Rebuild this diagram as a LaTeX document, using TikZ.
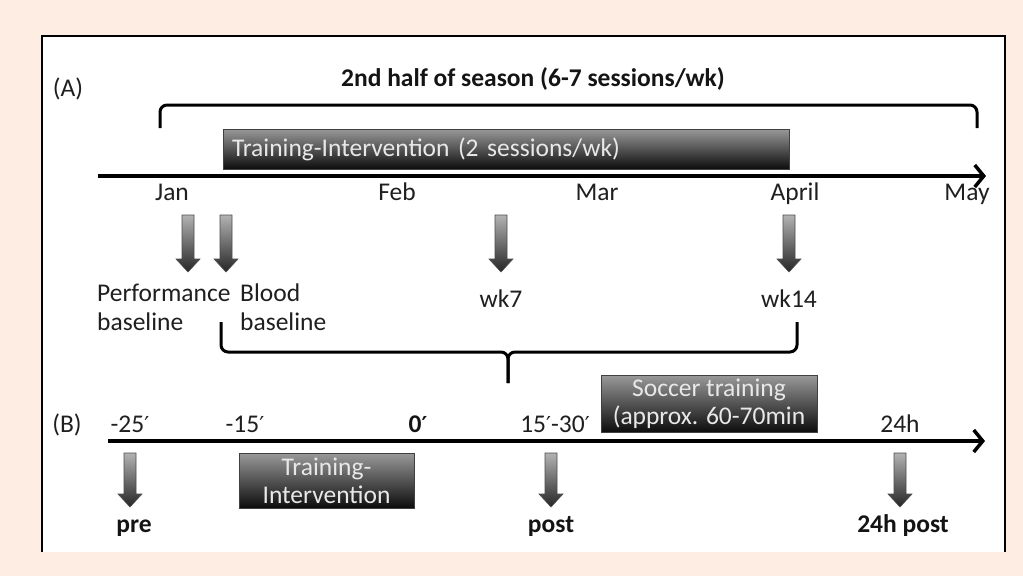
\documentclass[tikz,border=0pt]{standalone}
\usepackage{fontspec}
\setmainfont{Carlito}
\newfontfamily\primefont{DejaVu Sans}
\usetikzlibrary{arrows.meta}
\definecolor{peach}{RGB}{253,237,226}
\definecolor{boxtext}{RGB}{232,232,232}
\newcommand\pr{{\primefont\fontsize{22}{26}\selectfont ′}}
\newcommand\blkarrow[3]{\path[barrow] (#1,#2) ++(-6,0) -- ++(12,0) -- ++(0,#3-13) -- ++(6,0) -- ++(-12,13) -- ++(-12,-13) -- ++(6,0) -- cycle;}
\begin{document}
\begin{tikzpicture}[x=1pt,y=-1pt,
  lbl/.style={font=\fontsize{25.5}{28}\selectfont, text=black!88, inner sep=0pt, anchor=base},
  blbl/.style={font=\fontsize{25.5}{28}\selectfont\bfseries, text=black!92, inner sep=0pt, anchor=base},
  gbox/.style={draw=black!75, line width=0.8pt, top color=black!40, bottom color=black!95,
    text=boxtext, font=\fontsize{25.5}{28}\selectfont, inner sep=0pt},
  axis/.style={line width=3.5pt, -{Straight Barb[length=9pt,width=22pt,line width=3.5pt]}},
  brk/.style={line width=3pt, rounded corners=7pt},
  barrow/.style={draw=black!70, line width=0.6pt, top color=black!30, bottom color=black!85},
]
\useasboundingbox (0,0) rectangle (1023,576);
\fill[peach] (0,0) rectangle (1023,576);
\fill[white] (42,36) rectangle (1005,552);
\draw[line width=2pt] (42,552) -- (42,36) -- (1005,36) -- (1005,552);

% ---------- Part A ----------
\node[lbl] (labA) at (68,96) {(A)};
\node[blbl] (title) at (533,86) {2nd half of season (6-7 sessions/wk)};
\coordinate (brL) at (160,128);
\coordinate (brR) at (977,128);
\draw[brk] (brL) -- (160,105) -- (977,105) -- (brR);

\node[gbox, minimum width=566pt, minimum height=40pt, text width=548pt, align=left] (tiA) at (506,149) {Training-Intervention\ (2 sessions/wk)};

\coordinate (aS) at (98,176);
\coordinate (aE) at (986,176);
\draw[axis] (aS) -- (aE);

\node[lbl] (jan) at (172,200) {Jan};
\node[lbl] (feb) at (397,200) {Feb};
\node[lbl] (mar) at (597,200) {Mar};
\node[lbl] (apr) at (795,200) {April};
\node[lbl] (may) at (967,200) {May};

\blkarrow{188}{215}{57}
\blkarrow{226}{215}{57}
\blkarrow{501}{215}{57}
\blkarrow{789}{215}{57}

\node[lbl, anchor=base west] (perf1) at (97,301) {Performance};
\node[lbl, anchor=base west] (perf2) at (97,330) {baseline};
\node[lbl, anchor=base west] (blood1) at (240,301) {Blood};
\node[lbl, anchor=base west] (blood2) at (240,330) {baseline};
\node[lbl] (wk7) at (501,307) {wk7};
\node[lbl] (wk14) at (789,307) {wk14};

\coordinate (bcL) at (221,322);
\coordinate (bcR) at (797,322);
\coordinate (bcM) at (508,383);
\draw[brk] (bcL) |- (508,352) -- (bcM);
\draw[brk] (bcR) |- (508,352) -- (bcM);

% ---------- Part B ----------
\node[gbox, minimum width=216pt, minimum height=57pt, align=center] (soc) at (709,403.5) {Soccer training\\(approx. 60-70min};

\node[lbl] (labB) at (67,432) {(B)};
\node[lbl] (t25) at (130,432) {-25\pr};
\node[lbl] (t15) at (245,432) {-15\pr};
\node[blbl] (t0) at (418,432) {0\pr};
\node[lbl] (t1530) at (555,432) {15\pr-30\pr};
\node[lbl] (t24) at (900,432) {24h};

\coordinate (bS) at (108,441);
\coordinate (bE) at (985,441);
\draw[axis] (bS) -- (bE);

\node[gbox, minimum width=175pt, minimum height=55pt, align=center] (tiB) at (326.5,480.5) {Training-\\Intervention};

\blkarrow{130}{453}{54}
\blkarrow{551}{453}{54}
\blkarrow{900}{453}{54}

\node[blbl] (pre) at (134,532) {pre};
\node[blbl] (post) at (551,532) {post};
\node[blbl] (post24) at (903,532) {24h post};
\end{tikzpicture}
\end{document}
